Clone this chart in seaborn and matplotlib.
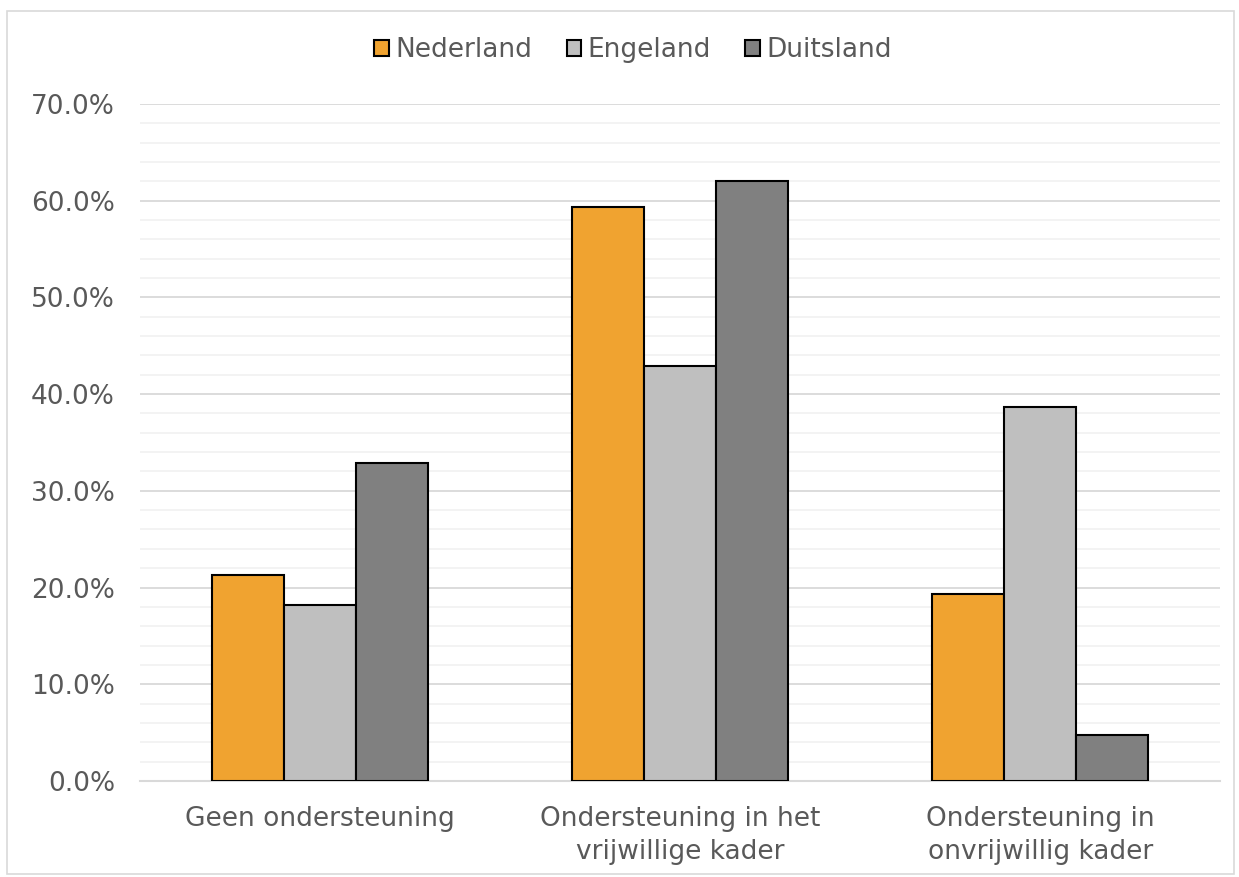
import pandas as pd
import seaborn as sns
import matplotlib.pyplot as plt
from matplotlib.ticker import MultipleLocator, PercentFormatter

# Data (percentages)
categorieen = ['Geen ondersteuning',
               'Ondersteuning in het\nvrijwillige kader',
               'Ondersteuning in\nonvrijwillig kader']
landen = ['Nederland', 'Engeland', 'Duitsland']
nederland = [21.3, 59.3, 19.3]
engeland = [18.2, 42.9, 38.7]
duitsland = [32.9, 62.0, 4.8]

kleuren = ['#F0A330', '#BFBFBF', '#808080']
tekstkleur = '#595959'

df = pd.DataFrame({
    'Categorie': categorieen * 3,
    'Land': [l for l in landen for _ in categorieen],
    'Waarde': nederland + engeland + duitsland,
})

sns.set_style('white')
plt.rcParams['font.family'] = ['DejaVu Sans']

fig = plt.figure(figsize=(12.39, 8.77), dpi=100)
ax = fig.add_axes([0.113, 0.1095, 0.872, 0.772])

sns.barplot(data=df, x='Categorie', y='Waarde', hue='Land', hue_order=landen,
            palette=kleuren, saturation=1, width=0.6, gap=0, edgecolor='black',
            linewidth=1.5, errorbar=None, ax=ax, zorder=3)

ax.set_ylim(0, 70)
ax.set_xlim(-0.5, 2.5)
ax.yaxis.set_major_locator(MultipleLocator(10))
ax.yaxis.set_minor_locator(MultipleLocator(2))
ax.yaxis.set_major_formatter(PercentFormatter(decimals=1))
ax.grid(which='major', axis='y', color='#D9D9D9', linewidth=1.3, zorder=0)
ax.grid(which='minor', axis='y', color='#F2F2F2', linewidth=1.3, zorder=0)
ax.set_axisbelow(True)

for s in ['top', 'right', 'left']:
    ax.spines[s].set_visible(False)
ax.spines['bottom'].set_color('#D9D9D9')
ax.spines['bottom'].set_linewidth(1.5)

ax.tick_params(axis='both', which='both', length=0, labelsize=19, labelcolor=tekstkleur)
ax.tick_params(axis='y', pad=18)
ax.tick_params(axis='x', pad=18)
for lbl in ax.get_xticklabels():
    lbl.set_linespacing(1.35)
ax.set_xlabel('')
ax.set_ylabel('')

leg = ax.legend(loc='center', bbox_to_anchor=(0.511, 0.943), bbox_transform=fig.transFigure,
                ncol=3, frameon=False, fontsize=19, handlelength=0.55, handleheight=0.55,
                handletextpad=0.25, columnspacing=1.3, labelcolor=tekstkleur)

# light border around the figure
fig.patches.append(plt.Rectangle((0.006, 0.003), 0.99, 0.985, transform=fig.transFigure,
                                 fill=False, edgecolor='#D9D9D9', linewidth=1.2))

fig.savefig('out.png', dpi=100)
